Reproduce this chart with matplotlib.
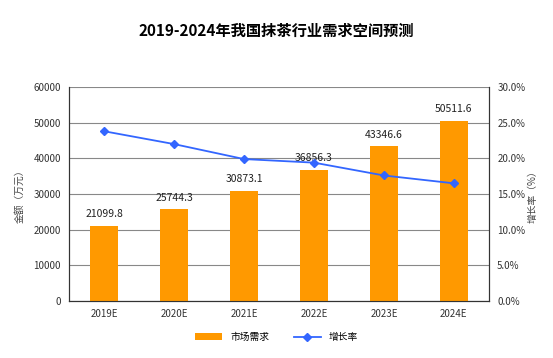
import matplotlib
matplotlib.use("Agg")
import matplotlib.pyplot as plt
from matplotlib.ticker import FuncFormatter

plt.rcParams['font.family'] = ['Noto Sans CJK SC', 'DejaVu Sans']

# datos
years = ["2019E", "2020E", "2021E", "2022E", "2023E", "2024E"]
demand = [21099.8, 25744.3, 30873.1, 36856.3, 43346.6, 50511.6]
growth = [23.8, 22.0, 19.9, 19.4, 17.6, 16.5]

fig = plt.figure(figsize=(5.53, 3.58), dpi=100)
ax = fig.add_axes([0.125, 0.159, 0.759, 0.598])
ax2 = ax.twinx()

x = list(range(len(years)))
bars = ax.bar(x, demand, width=0.4, color="#FF9900", label="市场需求", zorder=3)
for xi, v in zip(x, demand):
    ax.text(xi, v + 1800, f"{v:.1f}", ha="center", va="bottom", fontsize=7.5, color="#222222")

line, = ax2.plot(x, growth, color="#3366FF", marker="D", markersize=4, linewidth=1.3,
                 label="增长率", zorder=4)

ax.set_ylim(0, 60000)
ax.set_yticks(range(0, 60001, 10000))
ax.set_xlim(-0.5, 5.5)
ax.set_xticks(x)
ax.set_xticklabels(years)
ax2.set_ylim(0, 30)
ax2.set_yticks(range(0, 31, 5))
ax2.yaxis.set_major_formatter(FuncFormatter(lambda v, p: f"{v:.1f}%"))

ax.grid(axis="y", color="#888888", linewidth=0.8, zorder=0)
ax.tick_params(labelsize=7, length=0, pad=6, labelcolor="#333333")
ax2.tick_params(labelsize=7, length=0, pad=6, labelcolor="#333333")
for s in ["left", "right", "bottom"]:
    ax.spines[s].set_color("#333333")
    ax2.spines[s].set_color("#333333")
ax.spines["top"].set_visible(False)
ax2.spines["top"].set_visible(False)

ax.set_ylabel("金额（万元）", fontsize=7, color="#444444", labelpad=6)
ax2.set_ylabel("增长率（%）", fontsize=7, color="#444444", rotation=90, labelpad=2)

fig.suptitle("2019-2024年我国抹茶行业需求空间预测", fontsize=11, fontweight="bold", y=0.935)

fig.legend([bars, line], ["市场需求", "增长率"], loc="lower center", ncol=2, frameon=False,
           fontsize=7, bbox_to_anchor=(0.5, 0.02), handlelength=2.8, columnspacing=2.5)

fig.savefig("out.png", dpi=100)
